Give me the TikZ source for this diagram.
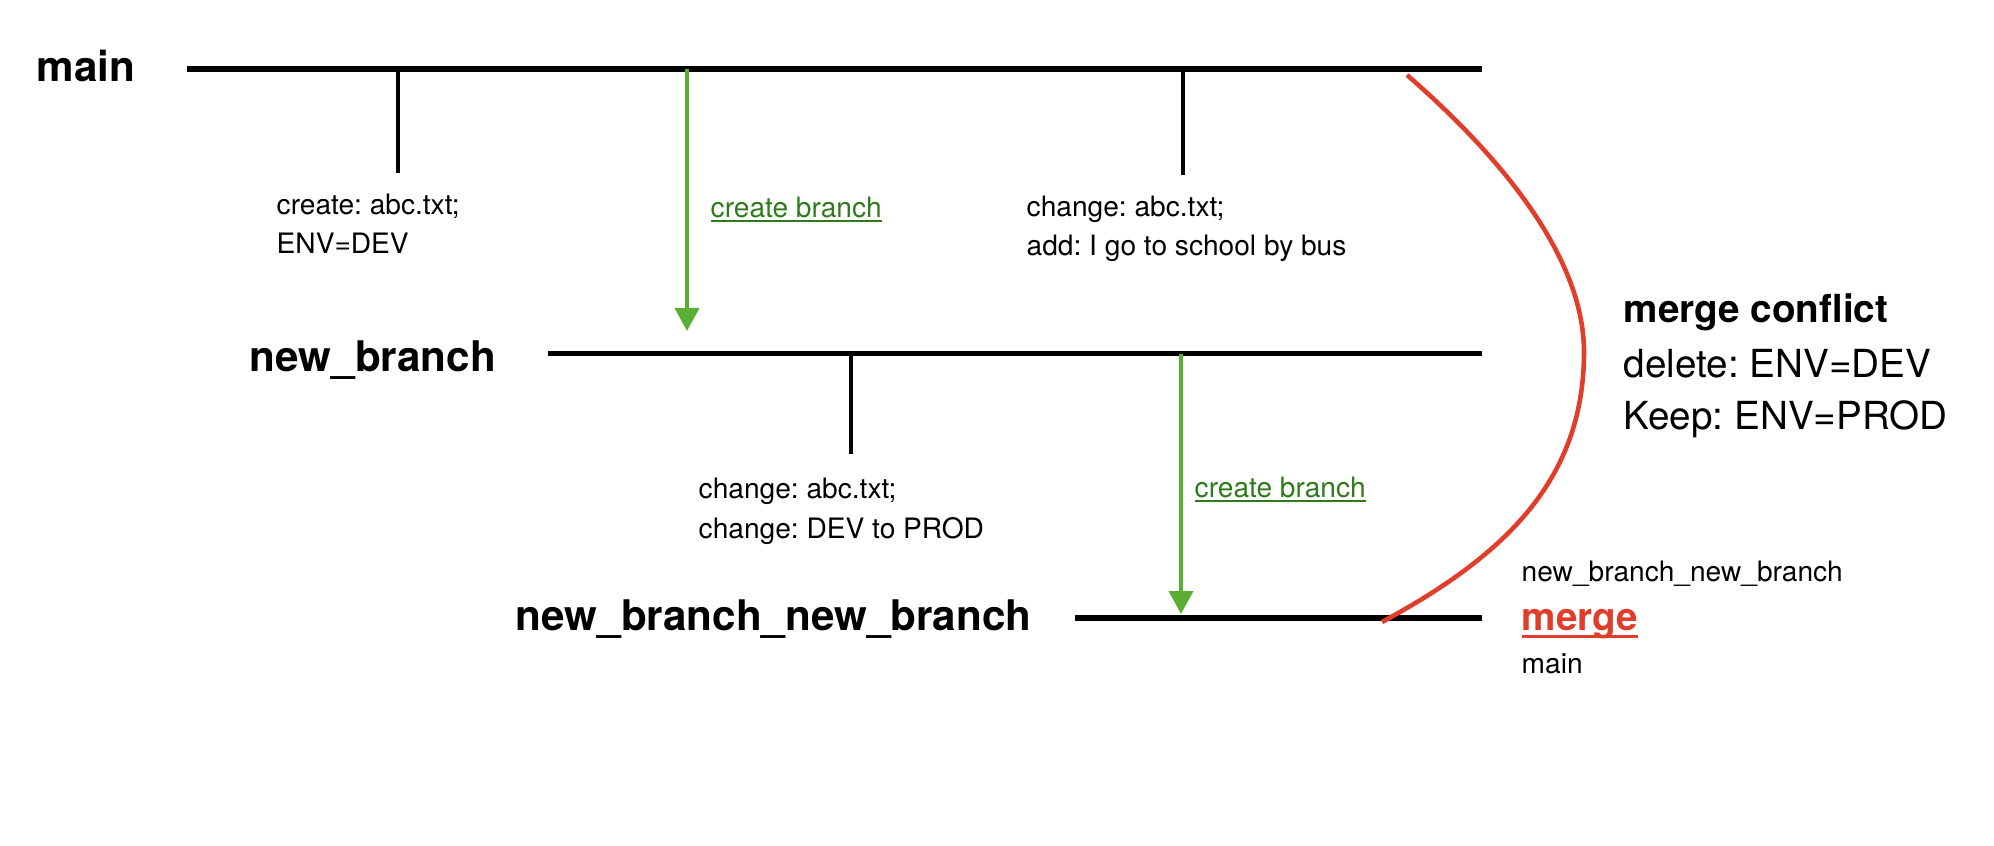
\documentclass[tikz,border=0pt]{standalone}
\usepackage{fontspec}
\setmainfont{TeX Gyre Heros}
\usetikzlibrary{arrows.meta,positioning,calc}
\definecolor{ink}{HTML}{000000}
\definecolor{leaf}{HTML}{5AAE32}
\definecolor{moss}{HTML}{2E7A1C}
\definecolor{clash}{HTML}{E03E2A}
% underline with own thickness and depth
\newcommand{\undr}[3]{\setbox0=\hbox{#3}\leavevmode\rlap{\rule[-#2]{\wd0}{#1}}\box0}
\tikzset{branchname/.style={anchor=base west,inner sep=0pt,font=\fontsize{12}{14}\selectfont\bfseries},
  branchline/.style={line width=1.5pt,draw=ink},
  commit/.style={line width=1pt,draw=ink},
  note/.style={anchor=base west,align=left,inner sep=0pt,font=\fontsize{8}{11.1}\selectfont},
  fork/.style={line width=1.1pt,draw=leaf,-{Triangle[width=2.4mm,length=2.3mm]}},
  forklabel/.style={anchor=base west,inner sep=0pt,text=moss,font=\fontsize{8}{10}\selectfont},
  conflict/.style={anchor=base west,inner sep=0pt,font=\fontsize{11}{13}\selectfont}}

\begin{document}
\frenchspacing
\begin{tikzpicture}[x=1cm,y=-1cm]
\useasboundingbox (0,0) rectangle (19.94,8.46);

% Branch lines and their names.
\foreach \nm/\y/\xa/\xl/\yl/\lab in {
  main/0.69/1.87/0.36/0.815/{main},
  nb/3.535/5.48/2.49/3.72/{new\_branch},
  nbnb/6.18/10.75/5.15/6.30/{new\_branch\_new\_branch}
}{
  \coordinate (\nm-a) at (\xa,\y);
  \coordinate (\nm-b) at (14.82,\y);
  \draw[branchline] (\nm-a)--(\nm-b);
  \node[branchname] (\nm-name) at (\xl,\yl) {\lab};
}

% Commits hanging from a branch.
\foreach \nm/\x/\yb in {c1/3.98/1.73, c2/11.83/1.75, c3/8.51/4.54}{
  \coordinate (\nm-end) at (\x,\yb);
}
\draw[commit] (c1-end|-main-a)--(c1-end);
\draw[commit] (c2-end|-main-a)--(c2-end);
\draw[commit] (c3-end|-nb-a)--(c3-end);
\node[note] (c1-note) at (2.76,2.54) {create: abc.txt;\\ENV=DEV};
\node[note] (c2-note) at (10.26,2.56) {change: abc.txt;\\add: I go to school by bus};
\node[note] (c3-note) at (6.98,5.38) {change: abc.txt;\\change: DEV to PROD};

% New branches.
\coordinate (f1-tip) at (6.87,3.31);
\coordinate (f2-tip) at (11.81,6.14);
\draw[fork] (f1-tip|-main-a)--(f1-tip);
\draw[fork] (f2-tip|-nb-a)--(f2-tip);
\node[forklabel] (f1-lab) at (7.10,2.17) {\undr{.5pt}{1.4pt}{create branch}};
\node[forklabel] (f2-lab) at (11.94,4.97) {\undr{.5pt}{1.4pt}{create branch}};

% Merge back into main.
\coordinate (mg-a) at (14.07,0.75);
\coordinate (mg-m) at (15.84,3.52);
\coordinate (mg-b) at (13.82,6.22);
\draw[clash,line width=1.3pt] (mg-a) .. controls (14.92,1.49) and (15.84,2.52) .. (mg-m)
  .. controls (15.84,4.82) and (15.02,5.57) .. (mg-b);
\node[conflict,font=\fontsize{11}{13}\selectfont\bfseries] (mc-head) at (16.23,3.23) {merge conflict};
\node[conflict] (mc-del) at (16.23,3.77) {delete: ENV=DEV};
\node[conflict] (mc-keep) at (16.23,4.30) {Keep: ENV=PROD};
\node[note] (mg-from) at (15.21,5.81) {new\_branch\_new\_branch};
\node[conflict,text=clash,font=\fontsize{11}{13}\selectfont\bfseries] (mg-lab) at (15.21,6.30) {\undr{.75pt}{2.2pt}{merge}};
\node[note] (mg-into) at (15.21,6.73) {main};
\end{tikzpicture}
\end{document}
